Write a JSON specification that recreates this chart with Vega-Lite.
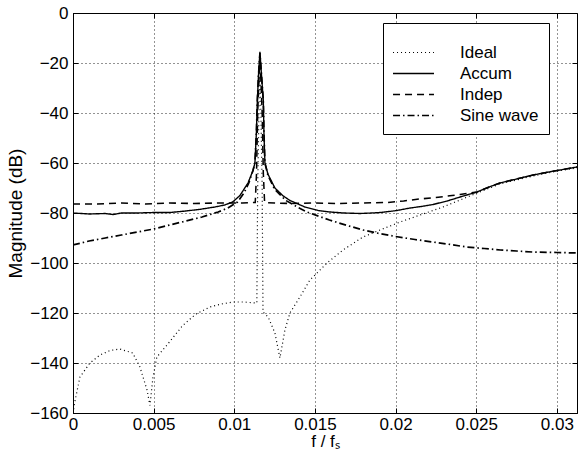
{
"$schema": "https://vega.github.io/schema/vega-lite/v6.json",
"width": 504, "height": 400,
"autosize": {"type": "none"},
"padding": {"left": 73, "top": 13, "right": 2, "bottom": 47},
"background": "white",
"config": {
  "view": {"stroke": "black", "strokeWidth": 1},
  "font": "Liberation Sans",
  "axis": {"labelFont": "Liberation Sans", "labelFontSize": 17, "labelColor": "black", "titleFont": "Liberation Sans", "titleFontSize": 17, "titleColor": "black", "titleFontWeight": "normal", "domainColor": "black", "tickColor": "black", "tickSize": -5, "gridColor": "black", "gridDash": [1, 3], "gridOpacity": 0.85}
},
"data": {"values": [
{"s":"Accum","x":0,"y":-80},{"s":"Accum","x":0.001,"y":-80.4},{"s":"Accum","x":0.002,"y":-80.2},{"s":"Accum","x":0.0025,"y":-80.6},{"s":"Accum","x":0.003,"y":-80},{"s":"Accum","x":0.004,"y":-80},{"s":"Accum","x":0.005,"y":-79.8},{"s":"Accum","x":0.006,"y":-79.8},{"s":"Accum","x":0.007,"y":-79.2},{"s":"Accum","x":0.0079,"y":-78.5},{"s":"Accum","x":0.0088,"y":-77.6},{"s":"Accum","x":0.0094,"y":-76.8},{"s":"Accum","x":0.0099,"y":-75.6},{"s":"Accum","x":0.01035,"y":-73},{"s":"Accum","x":0.01085,"y":-68},{"s":"Accum","x":0.01116,"y":-63},{"s":"Accum","x":0.01128,"y":-60},{"s":"Accum","x":0.01137,"y":-48},{"s":"Accum","x":0.01143,"y":-35},{"s":"Accum","x":0.0115,"y":-25},{"s":"Accum","x":0.01159,"y":-15.5},{"s":"Accum","x":0.01169,"y":-25},{"s":"Accum","x":0.0118,"y":-35},{"s":"Accum","x":0.01184,"y":-48},{"s":"Accum","x":0.0119,"y":-60},{"s":"Accum","x":0.01209,"y":-64.5},{"s":"Accum","x":0.01252,"y":-70},{"s":"Accum","x":0.013,"y":-73},{"s":"Accum","x":0.01345,"y":-75},{"s":"Accum","x":0.01438,"y":-77.6},{"s":"Accum","x":0.0152,"y":-79},{"s":"Accum","x":0.01594,"y":-79.6},{"s":"Accum","x":0.0168,"y":-80},{"s":"Accum","x":0.0178,"y":-80.2},{"s":"Accum","x":0.0185,"y":-80},{"s":"Accum","x":0.01904,"y":-79.8},{"s":"Accum","x":0.0196,"y":-79.4},{"s":"Accum","x":0.02009,"y":-79},{"s":"Accum","x":0.0209,"y":-78},{"s":"Accum","x":0.0216,"y":-77.4},{"s":"Accum","x":0.02232,"y":-76.6},{"s":"Accum","x":0.0232,"y":-75.2},{"s":"Accum","x":0.024,"y":-73.6},{"s":"Accum","x":0.02505,"y":-71.6},{"s":"Accum","x":0.0258,"y":-69.6},{"s":"Accum","x":0.02647,"y":-68},{"s":"Accum","x":0.0275,"y":-66.4},{"s":"Accum","x":0.02852,"y":-64.8},{"s":"Accum","x":0.0295,"y":-63.6},{"s":"Accum","x":0.0302,"y":-62.8},{"s":"Accum","x":0.03125,"y":-61.6},
{"s":"Indep","x":0,"y":-76.4},{"s":"Indep","x":0.0015,"y":-76.4},{"s":"Indep","x":0.003,"y":-76},{"s":"Indep","x":0.0045,"y":-76.4},{"s":"Indep","x":0.006,"y":-76},{"s":"Indep","x":0.0075,"y":-76.2},{"s":"Indep","x":0.009,"y":-76},{"s":"Indep","x":0.0105,"y":-76},{"s":"Indep","x":0.0113,"y":-75.8},{"s":"Indep","x":0.01138,"y":-64},{"s":"Indep","x":0.01145,"y":-40},{"s":"Indep","x":0.01159,"y":-17},{"s":"Indep","x":0.01173,"y":-40},{"s":"Indep","x":0.0118,"y":-64},{"s":"Indep","x":0.01188,"y":-75.8},{"s":"Indep","x":0.0125,"y":-76},{"s":"Indep","x":0.0135,"y":-76.2},{"s":"Indep","x":0.015,"y":-76},{"s":"Indep","x":0.0165,"y":-76.2},{"s":"Indep","x":0.018,"y":-76},{"s":"Indep","x":0.0195,"y":-75.8},{"s":"Indep","x":0.0205,"y":-75.2},{"s":"Indep","x":0.0215,"y":-74.4},{"s":"Indep","x":0.0225,"y":-73.8},{"s":"Indep","x":0.0235,"y":-73},{"s":"Indep","x":0.024,"y":-72.6},{"s":"Indep","x":0.02505,"y":-71.6},{"s":"Indep","x":0.0258,"y":-69.6},{"s":"Indep","x":0.02647,"y":-68},{"s":"Indep","x":0.0275,"y":-66.4},{"s":"Indep","x":0.02852,"y":-64.8},{"s":"Indep","x":0.0295,"y":-63.6},{"s":"Indep","x":0.0302,"y":-62.8},{"s":"Indep","x":0.03125,"y":-61.6},
{"s":"Sine wave","x":0,"y":-92.8},{"s":"Sine wave","x":0.001,"y":-91.2},{"s":"Sine wave","x":0.002,"y":-90},{"s":"Sine wave","x":0.003,"y":-88.8},{"s":"Sine wave","x":0.004,"y":-87.6},{"s":"Sine wave","x":0.005,"y":-86.4},{"s":"Sine wave","x":0.006,"y":-84.8},{"s":"Sine wave","x":0.007,"y":-83.2},{"s":"Sine wave","x":0.008,"y":-81.6},{"s":"Sine wave","x":0.009,"y":-79.6},{"s":"Sine wave","x":0.0096,"y":-78},{"s":"Sine wave","x":0.0102,"y":-75.6},{"s":"Sine wave","x":0.0106,"y":-72},{"s":"Sine wave","x":0.0109,"y":-68},{"s":"Sine wave","x":0.01116,"y":-63},{"s":"Sine wave","x":0.01128,"y":-60},{"s":"Sine wave","x":0.01137,"y":-48},{"s":"Sine wave","x":0.01143,"y":-35},{"s":"Sine wave","x":0.0115,"y":-25},{"s":"Sine wave","x":0.01159,"y":-16},{"s":"Sine wave","x":0.01169,"y":-25},{"s":"Sine wave","x":0.0118,"y":-35},{"s":"Sine wave","x":0.01184,"y":-48},{"s":"Sine wave","x":0.0119,"y":-60},{"s":"Sine wave","x":0.01209,"y":-65},{"s":"Sine wave","x":0.0125,"y":-70.5},{"s":"Sine wave","x":0.0132,"y":-75},{"s":"Sine wave","x":0.0139,"y":-77.6},{"s":"Sine wave","x":0.0145,"y":-79.6},{"s":"Sine wave","x":0.0159,"y":-82.8},{"s":"Sine wave","x":0.017,"y":-85},{"s":"Sine wave","x":0.018,"y":-86.8},{"s":"Sine wave","x":0.019,"y":-88.2},{"s":"Sine wave","x":0.02,"y":-89.4},{"s":"Sine wave","x":0.0212,"y":-90.6},{"s":"Sine wave","x":0.0223,"y":-91.6},{"s":"Sine wave","x":0.0234,"y":-92.6},{"s":"Sine wave","x":0.0244,"y":-93.6},{"s":"Sine wave","x":0.0255,"y":-94.2},{"s":"Sine wave","x":0.0265,"y":-94.8},{"s":"Sine wave","x":0.0275,"y":-95.2},{"s":"Sine wave","x":0.0285,"y":-95.6},{"s":"Sine wave","x":0.03,"y":-95.8},{"s":"Sine wave","x":0.03125,"y":-96},
{"s":"Ideal","x":0,"y":-160},{"s":"Ideal","x":0.0001,"y":-156},{"s":"Ideal","x":0.00043,"y":-145.6},{"s":"Ideal","x":0.00105,"y":-140},{"s":"Ideal","x":0.00167,"y":-136.8},{"s":"Ideal","x":0.0023,"y":-135},{"s":"Ideal","x":0.0029,"y":-134.4},{"s":"Ideal","x":0.0037,"y":-136},{"s":"Ideal","x":0.00415,"y":-141.6},{"s":"Ideal","x":0.00459,"y":-150.8},{"s":"Ideal","x":0.00477,"y":-157},{"s":"Ideal","x":0.00496,"y":-145.6},{"s":"Ideal","x":0.0052,"y":-137.6},{"s":"Ideal","x":0.00583,"y":-132.8},{"s":"Ideal","x":0.0068,"y":-125},{"s":"Ideal","x":0.0076,"y":-120.5},{"s":"Ideal","x":0.00849,"y":-117.6},{"s":"Ideal","x":0.0092,"y":-116.4},{"s":"Ideal","x":0.00992,"y":-115.6},{"s":"Ideal","x":0.0106,"y":-115.6},{"s":"Ideal","x":0.0113,"y":-116},{"s":"Ideal","x":0.0114,"y":-116},{"s":"Ideal","x":0.01145,"y":-70},{"s":"Ideal","x":0.01159,"y":-17},{"s":"Ideal","x":0.01173,"y":-70},{"s":"Ideal","x":0.01178,"y":-119.6},{"s":"Ideal","x":0.0121,"y":-121.6},{"s":"Ideal","x":0.01252,"y":-128},{"s":"Ideal","x":0.01283,"y":-138},{"s":"Ideal","x":0.01314,"y":-126.8},{"s":"Ideal","x":0.01345,"y":-120},{"s":"Ideal","x":0.01407,"y":-113.6},{"s":"Ideal","x":0.01469,"y":-106.8},{"s":"Ideal","x":0.01513,"y":-104},{"s":"Ideal","x":0.01575,"y":-100},{"s":"Ideal","x":0.01674,"y":-94.8},{"s":"Ideal","x":0.01798,"y":-89.6},{"s":"Ideal","x":0.01904,"y":-86.8},{"s":"Ideal","x":0.02028,"y":-83.6},{"s":"Ideal","x":0.02152,"y":-80.8},{"s":"Ideal","x":0.02294,"y":-77.6},{"s":"Ideal","x":0.024,"y":-74.8},{"s":"Ideal","x":0.02505,"y":-72},{"s":"Ideal","x":0.02647,"y":-68.4},{"s":"Ideal","x":0.02852,"y":-65.2},{"s":"Ideal","x":0.0302,"y":-63},{"s":"Ideal","x":0.03125,"y":-62}
]},
"layer": [
  {
    "mark": {"type": "line", "color": "black", "clip": true, "strokeCap": "butt"},
    "encoding": {
      "x": {"field": "x", "type": "quantitative", "scale": {"domain": [0, 0.03125], "nice": false, "zero": false},
            "axis": {"values": [0, 0.005, 0.01, 0.015, 0.02, 0.025, 0.03], "format": ".3~f", "title": "f / fₛ", "labelPadding": 8, "titlePadding": 1, "grid": true, "labelFlush": false}},
      "y": {"field": "y", "type": "quantitative", "scale": {"domain": [-160, 0], "nice": false},
            "axis": {"values": [-160, -140, -120, -100, -80, -60, -40, -20, 0], "title": "Magnitude (dB)", "titleFontSize": 19, "labelPadding": 10, "titlePadding": 4, "grid": true}},
      "strokeDash": {"field": "s", "type": "nominal",
            "scale": {"domain": ["Ideal", "Accum", "Indep", "Sine wave"], "range": [[1, 3], [1, 0], [7, 5], [7, 3, 1.5, 3]]},
            "legend": {"title": " ", "titleFontSize": 9, "titlePadding": 2, "orient": "none", "legendX": 310, "legendY": 10, "strokeColor": "black", "fillColor": "white", "padding": 10, "symbolType": "M-1.13,0H4.33", "symbolSize": 225, "symbolStrokeColor": "black", "symbolFillColor": "transparent", "labelFontSize": 17, "labelFont": "Liberation Sans", "labelColor": "black", "labelOffset": 50, "rowPadding": 3}},
      "strokeWidth": {"field": "s", "type": "nominal",
            "scale": {"domain": ["Ideal", "Accum", "Indep", "Sine wave"], "range": [1.2, 1.7, 1.4, 1.3]},
            "legend": {"title": " ", "titleFontSize": 9, "titlePadding": 2, "orient": "none", "legendX": 310, "legendY": 10, "strokeColor": "black", "fillColor": "white", "padding": 10, "symbolType": "M-1.13,0H4.33", "symbolSize": 225, "symbolStrokeColor": "black", "symbolFillColor": "transparent", "labelFontSize": 17, "labelFont": "Liberation Sans", "labelColor": "black", "labelOffset": 50, "rowPadding": 3}}
    }
  },
  {
    "mark": {"type": "line", "opacity": 0},
    "encoding": {
      "x": {"field": "x", "type": "quantitative", "scale": {"domain": [0, 0.03125], "nice": false, "zero": false},
            "axis": {"orient": "top", "values": [0, 0.005, 0.01, 0.015, 0.02, 0.025, 0.03], "labels": false, "title": null, "grid": false, "domain": false}},
      "y": {"field": "y", "type": "quantitative", "scale": {"domain": [-160, 0], "nice": false},
            "axis": {"orient": "right", "values": [-160, -140, -120, -100, -80, -60, -40, -20, 0], "labels": false, "title": null, "grid": false, "domain": false}},
      "detail": {"field": "s"}
    }
  }
],
"resolve": {"axis": {"x": "independent", "y": "independent"}}
}
